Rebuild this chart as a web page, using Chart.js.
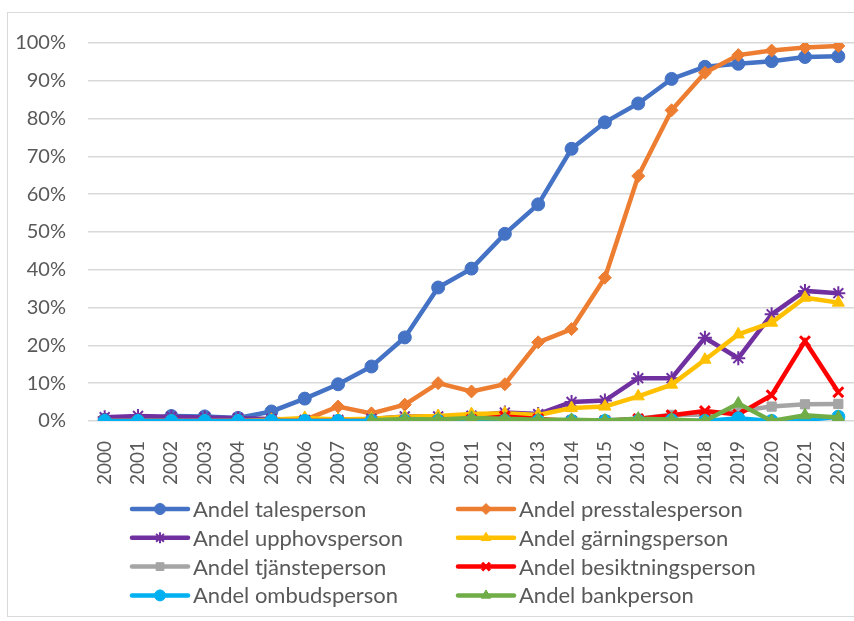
<!DOCTYPE html>
<html>
<head>
<meta charset="utf-8">
<script src="https://cdn.jsdelivr.net/npm/chart.js@4.4.0/dist/chart.umd.min.js"></script>
<style>
  body { margin: 0; background: #fff; }
  #wrap { position: absolute; left: 0; top: 0; width: 854px; height: 621px; overflow: hidden; }
  #frame { position: absolute; left: 7px; top: 12px; width: 900px; height: 603px; border: 1px solid #d9d9d9; }
  canvas { position: absolute; left: 0; top: 0; }
</style>
</head>
<body>
<div id="wrap">
  <div id="frame"></div>
  <canvas id="chart" width="880" height="621"></canvas>
</div>
<script>
var years = ['2000','2001','2002','2003','2004','2005','2006','2007','2008','2009','2010','2011',
             '2012','2013','2014','2015','2016','2017','2018','2019','2020','2021','2022'];

var talesperson      = [0.3, 0.3, 1.3, 1.2, 0.8, 2.5, 5.9, 9.7, 14.4, 22.1, 35.3, 40.3, 49.5, 57.3, 72.0, 79.0, 84.0, 90.5, 93.7, 94.5, 95.2, 96.3, 96.5];
var presstalesperson = [0, 0, 0, 0, 0, 0.2, 0.3, 3.8, 2.0, 4.3, 10.0, 7.8, 9.7, 20.8, 24.3, 37.9, 64.8, 82.2, 92.1, 96.8, 98.0, 98.8, 99.2];
var upphovsperson    = [1.0, 1.3, 1.1, 0.9, 0.7, 0.5, 0.3, 0.3, 0.5, 1.2, 1.2, 1.4, 2.2, 1.8, 5.0, 5.4, 11.3, 11.3, 22.0, 16.6, 28.2, 34.4, 33.8];
var garningsperson   = [0, 0, 0, 0, 0, 0.3, 0.8, 0.4, 0.6, 1.1, 1.3, 1.8, 2.0, 1.6, 3.4, 3.8, 6.5, 9.6, 16.2, 22.9, 26.0, 32.6, 31.3];
var tjansteperson    = [0, 0, 0, 0, 0, 0, 0, 0, 0, 0, 0, 0, 0, 0, 0, 0.2, 0.6, 1.6, 1.6, 2.6, 3.8, 4.4, 4.5];
var besiktningsperson= [0, 0, 0, 0, 0, 0, 0, 0, 0, 0, 0, 0.3, 1.2, 0.5, 0, 0, 0.5, 1.5, 2.6, 1.7, 6.8, 21.1, 7.6];
var ombudsperson     = [0, 0, 0, 0, 0, 0, 0, 0, 0, 0, 0, 0, 0, 0, 0, 0, 0, 0.2, 0, 0.7, 0, 0.2, 1.1];
var bankperson       = [null, null, null, null, null, null, null, null, 0.2, 0.5, 0.4, 0.8, 0.6, 0.3, 0.3, 0.1, 0.6, 0.4, 0, 4.6, 0, 1.5, 0.9];

var yTicks = [0, 10, 20, 30, 40, 50, 60, 70, 80, 90, 100];

function series(label, data, color, style, radius, bw) {
  return {
    label: label,
    data: data,
    borderColor: color,
    backgroundColor: color,
    borderWidth: 4.5,
    pointStyle: style,
    pointRadius: radius,
    pointBorderWidth: bw,
    pointBackgroundColor: color,
    pointBorderColor: color,
    tension: 0
  };
}

var datasets = [
  series('Andel talesperson', talesperson, '#4472C4', 'circle', 6.5, 1),
  series('Andel presstalesperson', presstalesperson, '#ED7D31', 'rectRot', 6.5, 1),
  series('Andel upphovsperson', upphovsperson, '#7030A0', 'star', 7, 2),
  series('Andel gärningsperson', garningsperson, '#FFC000', 'triangle', 7, 1),
  series('Andel tjänsteperson', tjansteperson, '#A5A5A5', 'rect', 6.5, 1),
  series('Andel besiktningsperson', besiktningsperson, '#FF0000', 'crossRot', 7, 3),
  series('Andel ombudsperson', ombudsperson, '#00B0F0', 'circle', 6.5, 1),
  series('Andel bankperson', bankperson, '#70AD47', 'triangle', 7, 1)
];
// excel draws later series on top
datasets.forEach(function(d, i) { d.order = datasets.length - i; });

// two-column legend like the excel one
var legendTwoCols = {
  id: 'legendTwoCols',
  afterDraw: function(chart) {
    var ctx = chart.ctx;
    var colX = [132, 458];
    var rowY = 509, rowH = 28.8;
    ctx.save();
    chart.data.datasets.forEach(function(ds, i) {
      var x = colX[i % 2];
      var y = rowY + Math.floor(i / 2) * rowH;
      ctx.strokeStyle = ds.borderColor;
      ctx.lineWidth = 4.5;
      ctx.lineCap = 'round';
      ctx.beginPath();
      ctx.moveTo(x, y);
      ctx.lineTo(x + 56, y);
      ctx.stroke();
      ctx.lineCap = 'butt';
      ctx.fillStyle = ds.borderColor;
      ctx.strokeStyle = ds.borderColor;
      ctx.lineWidth = ds.pointBorderWidth;
      Chart.helpers.drawPoint(ctx, { pointStyle: ds.pointStyle, radius: 5.5, borderWidth: ds.pointBorderWidth }, x + 28, y);
      ctx.fillStyle = '#595959';
      ctx.font = '22px Lato';
      ctx.textBaseline = 'middle';
      ctx.textAlign = 'left';
      ctx.fillText(ds.label, x + 61, y + 1);
    });
    ctx.restore();
  }
};

new Chart(document.getElementById('chart'), {
  type: 'line',
  data: { labels: years, datasets: datasets },
  options: {
    responsive: false,
    animation: false,
    layout: { padding: { left: 0, right: 25, top: 43, bottom: 124 } },
    plugins: { legend: { display: false }, tooltip: { enabled: false } },
    scales: {
      x: {
        offset: true,
        grid: { display: false },
        border: { color: '#d9d9d9' },
        ticks: { color: '#595959', font: { family: 'Lato', size: 19 }, maxRotation: 90, minRotation: 90, autoSkip: false, padding: 12 }
      },
      y: {
        min: 0,
        max: 100,
        afterBuildTicks: function(axis) { axis.ticks = yTicks.map(function(v) { return { value: v }; }); },
        afterFit: function(axis) { axis.width = 88; },
        grid: { color: '#d9d9d9', lineWidth: 1.5, drawTicks: false },
        border: { display: false },
        ticks: { color: '#595959', font: { family: 'Lato', size: 20 }, padding: 22, callback: function(v) { return v + '%'; } }
      }
    }
  },
  plugins: [legendTwoCols]
});
</script>
</body>
</html>
